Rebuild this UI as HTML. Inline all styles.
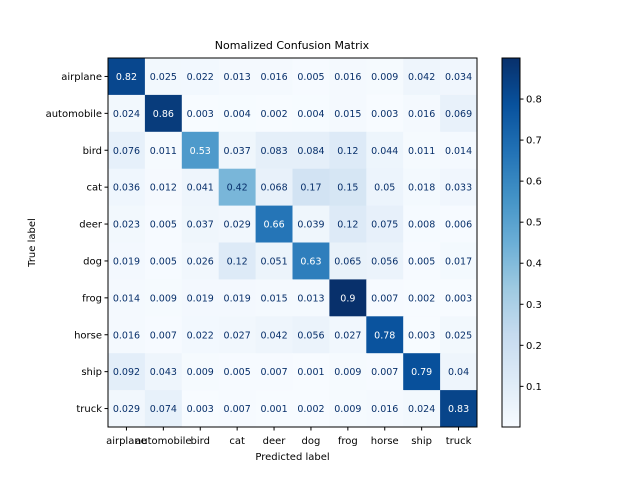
<!DOCTYPE html>
<html><head><meta charset="utf-8"><style>
body{margin:0;background:#fff;font-family:"Liberation Sans","DejaVu Sans",sans-serif}
</style></head><body>
<svg id="c" width="640" height="480" xmlns="http://www.w3.org/2000/svg" font-family="DejaVu Sans, Liberation Sans, sans-serif"></svg>
<script>
const classes=["airplane","automobile","bird","cat","deer","dog","frog","horse","ship","truck"];
const row0=[0.82,0.025,0.022,0.013,0.016,0.005,0.016,0.009,0.042,0.034];
const row1=[0.024,0.86,0.003,0.004,0.002,0.004,0.015,0.003,0.016,0.069];
const row2=[0.076,0.011,0.53,0.037,0.083,0.084,0.12,0.044,0.011,0.014];
const row3=[0.036,0.012,0.041,0.42,0.068,0.17,0.15,0.05,0.018,0.033];
const row4=[0.023,0.005,0.037,0.029,0.66,0.039,0.12,0.075,0.008,0.006];
const row5=[0.019,0.005,0.026,0.12,0.051,0.63,0.065,0.056,0.005,0.017];
const row6=[0.014,0.009,0.019,0.019,0.015,0.013,0.9,0.007,0.002,0.003];
const row7=[0.016,0.007,0.022,0.027,0.042,0.056,0.027,0.78,0.003,0.025];
const row8=[0.092,0.043,0.009,0.005,0.007,0.001,0.009,0.007,0.79,0.04];
const row9=[0.029,0.074,0.003,0.007,0.001,0.002,0.009,0.016,0.024,0.83];
const matrix=[row0,row1,row2,row3,row4,row5,row6,row7,row8,row9];
const cbTicks=[0.1,0.2,0.3,0.4,0.5,0.6,0.7,0.8];
const vmin=0.001,vmax=0.9;

const NS="http://www.w3.org/2000/svg",svg=document.getElementById('c');
function mk(t,a,p){const e=document.createElementNS(NS,t);for(const k in a)e.setAttribute(k,a[k]);(p||svg).appendChild(e);return e;}
const blues=["#f7fbff","#deebf7","#c6dbef","#9ecae1","#6baed6","#4292c6","#2171b5","#08519c","#08306b"];
function hex(h){return[1,3,5].map(i=>parseInt(h.substr(i,2),16));}
function cmap(v){let t=Math.max(0,Math.min(1,(v-vmin)/(vmax-vmin)))*8;let i=Math.min(7,Math.floor(t)),f=t-i;
const a=hex(blues[i]),b=hex(blues[i+1]);return"rgb("+a.map((x,k)=>Math.round(x+(b[k]-x)*f)).join(",")+")";}
const L=108,T=58,W=369,H=369,n=classes.length,cw=W/n,ch=H/n;
const xc=j=>L+cw*(j+0.5), yc=i=>T+ch*(i+0.5);
mk('text',{x:292,y:49,'text-anchor':'middle','font-size':11,fill:'#000'}).textContent="Nomalized Confusion Matrix";
matrix.forEach((r,i)=>r.forEach((v,j)=>{
 const c=mk('rect',{x:L+cw*j,y:T+ch*i,width:cw+0.5,height:ch+0.5,fill:cmap(v)});
 
 
 const t=mk('text',{x:xc(j),y:yc(i)+3.5,'text-anchor':'middle','font-size':9.5,fill:v>(vmin+vmax)/2?'#fff':'#08306b'});
 t.textContent=String(v);
 
 
}));
mk('rect',{x:L,y:T,width:W,height:H,fill:'none',stroke:'#000','stroke-width':1});
classes.forEach((c,i)=>{
 mk('line',{x1:L,x2:L-3.5,y1:yc(i),y2:yc(i),stroke:'#000'});
 const t=mk('text',{x:L-6,y:yc(i)+3.5,'text-anchor':'end','font-size':10,fill:'#000'});t.textContent=c;
 
 mk('line',{x1:xc(i),x2:xc(i),y1:T+H,y2:T+H+3.5,stroke:'#000'});
 const u=mk('text',{x:xc(i),y:T+H+17,'text-anchor':'middle','font-size':10,fill:'#000'});u.textContent=c;
 
});
const xl=mk('text',{x:L+W/2,y:460,'text-anchor':'middle','font-size':10});xl.textContent="Predicted label";

const yl=mk('text',{x:35,y:T+H/2,'text-anchor':'middle','font-size':10,transform:'rotate(-90 35 '+(T+H/2)+')'});yl.textContent="True label";

const CX=502,CW=18,CT=58,CH=369;
const cy=v=>CT+CH*(vmax-v)/(vmax-vmin);
for(let k=0;k<CH;k++){mk('rect',{x:CX,y:CT+k,width:CW,height:1.2,fill:cmap(vmax-(k+0.5)/CH*(vmax-vmin))});}
const cb=mk('rect',{x:CX,y:CT,width:CW,height:CH,fill:'none',stroke:'#000'});

cbTicks.forEach(v=>{mk('line',{x1:CX+CW,x2:CX+CW+3.5,y1:cy(v),y2:cy(v),stroke:'#000'});
 const t=mk('text',{x:CX+CW+6,y:cy(v)+3.5,'font-size':10});t.textContent=v.toFixed(1);
 });
</script>
</body></html>
